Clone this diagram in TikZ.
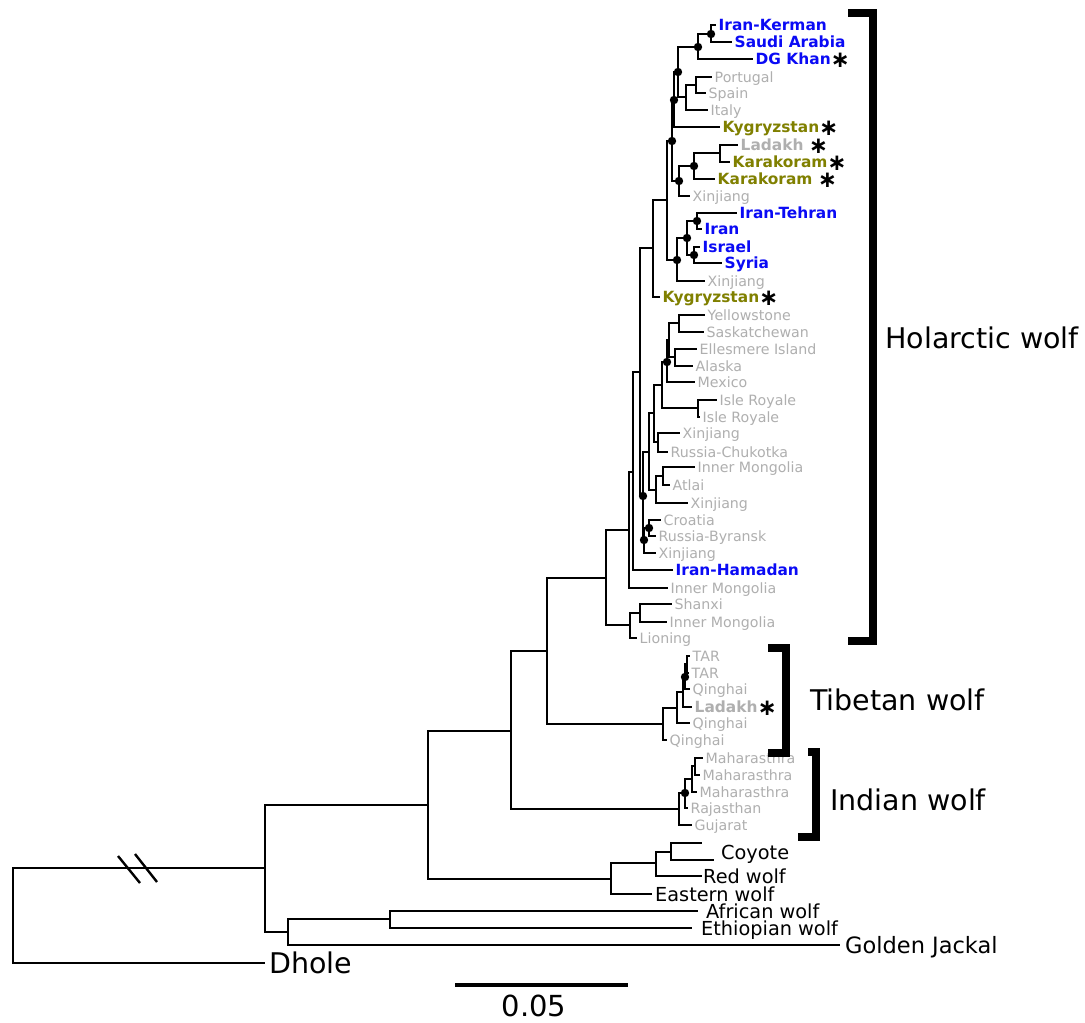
\documentclass[tikz,border=0pt]{standalone}
\usepackage{fontspec}
\setmainfont{DejaVu Sans}
\definecolor{lgray}{RGB}{175,175,175}
\definecolor{wblue}{RGB}{10,10,245}
\definecolor{olv}{RGB}{128,128,0}
\newcommand\astk{{\color{black}\fontsize{23}{23}\selectfont\bfseries\raisebox{-2.8pt}[0pt][0pt]{∗}}}
\begin{document}
\begin{tikzpicture}[x=1pt,y=-1pt,
  tree/.style={line width=1.8pt, line join=miter},
  gl/.style={font=\fontsize{14.2}{15}\selectfont, text=lgray, anchor=west, inner sep=0pt, text height=10.4pt, text depth=0pt, xshift=2.5pt},
  bgl/.style={gl, font=\fontsize{15.4}{16}\selectfont\bfseries, text height=11.2pt},
  bl/.style={bgl, text=wblue},
  ol/.style={bgl, text=olv},
  kl/.style={font=\fontsize{19.3}{20}\selectfont, text=black, anchor=west, inner sep=0pt, text height=14pt, text depth=0pt, xshift=5pt},
  big/.style={font=\fontsize{28.5}{30}\selectfont, text=black, anchor=west, inner sep=0pt, text height=20.8pt, text depth=0pt},
  brk/.style={line width=8pt, line join=miter},
  dot/.style={fill=black}
]
\useasboundingbox (0,0) rectangle (1085,1023);
\fill[white] (0,0) rectangle (1085,1023);
% tips
\coordinate (t1) at (716,25);  \coordinate (t2) at (732,42);  \coordinate (t3) at (753,59);
\coordinate (t4) at (712,77);  \coordinate (t5) at (706,93);  \coordinate (t6) at (708,110);
\coordinate (t7) at (720,127); \coordinate (t8) at (738,145); \coordinate (t9) at (730,162);
\coordinate (t10) at (715,179); \coordinate (t11) at (690,196); \coordinate (t12) at (737,213);
\coordinate (t13) at (702,229); \coordinate (t14) at (700,247); \coordinate (t15) at (722,263);
\coordinate (t16) at (705,281); \coordinate (t17) at (660,297); \coordinate (t18) at (705,315);
\coordinate (t19) at (704,332); \coordinate (t20) at (697,349); \coordinate (t21) at (693,366);
\coordinate (t22) at (695,382); \coordinate (t23) at (717,400); \coordinate (t24) at (700,417);
\coordinate (t25) at (680,433); \coordinate (t26) at (668,452); \coordinate (t27) at (695,467);
\coordinate (t28) at (670,485); \coordinate (t29) at (688,503); \coordinate (t30) at (661,520);
\coordinate (t31) at (656,536); \coordinate (t32) at (656,553); \coordinate (t33) at (673,570);
\coordinate (t34) at (668,588); \coordinate (t35) at (672,604); \coordinate (t36) at (667,622);
\coordinate (t37) at (637,638);
\coordinate (t38) at (690,656); \coordinate (t39) at (689,673); \coordinate (t40) at (690,689);
\coordinate (t41) at (692,707); \coordinate (t42) at (690,723); \coordinate (t43) at (667,740);
\coordinate (t44) at (703,758); \coordinate (t45) at (700,775); \coordinate (t46) at (697,792);
\coordinate (t47) at (688,808); \coordinate (t48) at (692,825);
\coordinate (t49) at (702,843); \coordinate (t49b) at (714,860); \coordinate (t50) at (702,876);
\coordinate (t51) at (652,894); \coordinate (t52) at (698,911); \coordinate (t53) at (692,928);
\coordinate (t54) at (840,945); \coordinate (t55) at (265,963);
% internal nodes
\coordinate (n1) at (711,34);  \coordinate (n2) at (698,47);  \coordinate (n3) at (696,85);
\coordinate (n4) at (686,97);  \coordinate (nA) at (678,72);  \coordinate (nB) at (674,100);
\coordinate (n5) at (720,153); \coordinate (n6) at (694,166); \coordinate (nD) at (679,181);
\coordinate (nC) at (672,141); \coordinate (n7) at (697,221); \coordinate (n8) at (694,255);
\coordinate (n9) at (687,238); \coordinate (nE) at (677,260); \coordinate (nG) at (667,200);
\coordinate (nH) at (653,248); \coordinate (n10) at (679,323); \coordinate (n11) at (675,357);
\coordinate (nV) at (669,340); \coordinate (nU) at (667,362); \coordinate (n12) at (698,408);
\coordinate (nT) at (662,385); \coordinate (n13) at (658,442); \coordinate (nW) at (654,413);
\coordinate (n14) at (663,476); \coordinate (nY) at (656,490); \coordinate (nX) at (649,452);
\coordinate (n15) at (649,528); \coordinate (nS) at (644,540); \coordinate (nP) at (643,496);
\coordinate (nI) at (640,372); \coordinate (nN) at (633,472); \coordinate (nK) at (629,530);
\coordinate (nM) at (640,613); \coordinate (nL) at (630,625); \coordinate (nJ) at (606,578);
\coordinate (n16) at (687,664); \coordinate (n17) at (685,677); \coordinate (n18) at (683,692);
\coordinate (n19) at (677,708); \coordinate (nTb) at (663,724);
\coordinate (n20) at (695,766); \coordinate (n21) at (692,779); \coordinate (n22) at (685,793);
\coordinate (nIn) at (679,809);
\coordinate (nZ) at (547,651); \coordinate (nAA) at (511,731);
\coordinate (n23) at (671,852); \coordinate (n24) at (656,863); \coordinate (nCy) at (611,879);
\coordinate (nBB) at (428,805); \coordinate (n25) at (390,919); \coordinate (n26) at (288,932);
\coordinate (nCC) at (265,868); \coordinate (root) at (13,915);
% branches
\foreach \p/\c in {n1/t1,n1/t2,n2/n1,n2/t3,n3/t4,n3/t5,n4/n3,n4/t6,nA/n2,nA/n4,nB/nA,nB/t7,
  n5/t8,n5/t9,n6/n5,n6/t10,nD/n6,nD/t11,nC/nB,nC/nD,n7/t12,n7/t13,n8/t14,n8/t15,n9/n7,n9/n8,
  nE/n9,nE/t16,nG/nC,nG/nE,nH/nG,nH/t17,n10/t18,n10/t19,n11/t20,n11/t21,nV/n10,nV/n11,nU/nV,
  nU/t22,n12/t23,n12/t24,nT/nU,nT/n12,n13/t25,n13/t26,nW/nT,nW/n13,n14/t27,n14/t28,nY/n14,
  nY/t29,nX/nW,nX/nY,n15/t30,n15/t31,nS/n15,nS/t32,nP/nX,nP/nS,nI/nH,nI/nP,nN/nI,nN/t33,
  nK/nN,nK/t34,nM/t35,nM/t36,nL/nM,nL/t37,nJ/nK,nJ/nL,
  n16/t38,n16/t39,n17/n16,n17/t40,n18/n17,n18/t41,n19/n18,n19/t42,nTb/n19,nTb/t43,
  n20/t44,n20/t45,n21/n20,n21/t46,n22/n21,n22/t47,nIn/n22,nIn/t48,
  nZ/nJ,nZ/nTb,nAA/nZ,nAA/nIn,n23/t49,n23/t49b,n24/n23,n24/t50,nCy/n24,nCy/t51,
  nBB/nAA,nBB/nCy,n25/t52,n25/t53,n26/n25,n26/t54,nCC/nBB,nCC/n26,root/nCC,root/t55}
  \draw[tree] (\p) |- (\c);
% support dots
\foreach \n in {n1,n2,nA,nB,nC,n6,nD,n7,n8,n9,nE,nU,nP,n15,nS,n17,n22}
  \fill[dot] (\n) circle (4.2pt);
% break marks
\coordinate (s1a) at (118,856); \coordinate (s1b) at (140,883);
\coordinate (s2a) at (135,854); \coordinate (s2b) at (157,882);
\draw[line width=2.4pt] (s1a) -- (s1b);
\draw[line width=2.4pt] (s2a) -- (s2b);
% labels
\node[bl] (L1) at (t1) {Iran-Kerman};
\node[bl] (L2) at (t2) {Saudi Arabia};
\node[bl] (L3) at (t3) {DG Khan\astk};
\node[gl] (L4) at (t4) {Portugal};
\node[gl] (L5) at (t5) {Spain};
\node[gl] (L6) at (t6) {Italy};
\node[ol] (L7) at (t7) {Kygryzstan\astk};
\node[bgl] (L8) at (t8) {Ladakh \astk};
\node[ol] (L9) at (t9) {Karakoram\astk};
\node[ol] (L10) at (t10) {Karakoram \astk};
\node[gl] (L11) at (t11) {Xinjiang};
\node[bl] (L12) at (t12) {Iran-Tehran};
\node[bl] (L13) at (t13) {Iran};
\node[bl] (L14) at (t14) {Israel};
\node[bl] (L15) at (t15) {Syria};
\node[gl] (L16) at (t16) {Xinjiang};
\node[ol] (L17) at (t17) {Kygryzstan\astk};
\node[gl] (L18) at (t18) {Yellowstone};
\node[gl] (L19) at (t19) {Saskatchewan};
\node[gl] (L20) at (t20) {Ellesmere Island};
\node[gl] (L21) at (t21) {Alaska};
\node[gl] (L22) at (t22) {Mexico};
\node[gl] (L23) at (t23) {Isle Royale};
\node[gl] (L24) at (t24) {Isle Royale};
\node[gl] (L25) at (t25) {Xinjiang};
\node[gl] (L26) at (t26) {Russia-Chukotka};
\node[gl] (L27) at (t27) {Inner Mongolia};
\node[gl] (L28) at (t28) {Atlai};
\node[gl] (L29) at (t29) {Xinjiang};
\node[gl] (L30) at (t30) {Croatia};
\node[gl] (L31) at (t31) {Russia-Byransk};
\node[gl] (L32) at (t32) {Xinjiang};
\node[bl] (L33) at (t33) {Iran-Hamadan};
\node[gl] (L34) at (t34) {Inner Mongolia};
\node[gl] (L35) at (t35) {Shanxi};
\node[gl] (L36) at (t36) {Inner Mongolia};
\node[gl] (L37) at (t37) {Lioning};
\node[gl] (L38) at (t38) {TAR};
\node[gl] (L39) at (t39) {TAR};
\node[gl] (L40) at (t40) {Qinghai};
\node[bgl] (L41) at (t41) {Ladakh\astk};
\node[gl] (L42) at (t42) {Qinghai};
\node[gl] (L43) at (t43) {Qinghai};
\node[gl] (L44) at (t44) {Maharasthra};
\node[gl] (L45) at (t45) {Maharasthra};
\node[gl] (L46) at (t46) {Maharasthra};
\node[gl] (L47) at (t47) {Rajasthan};
\node[gl] (L48) at (t48) {Gujarat};
\coordinate (cy) at (716,852);
\node[kl] (L49) at (cy) {Coyote};
\node[kl,xshift=-4pt] (L50) at (t50) {Red wolf};
\node[kl,xshift=-2pt] (L51) at (t51) {Eastern wolf};
\node[kl,xshift=3pt] (L52) at (t52) {African wolf};
\node[kl,xshift=4pt] (L53) at (t53) {Ethiopian wolf};
\node[kl,font=\fontsize{22.5}{23}\selectfont, text height=16.4pt] (L54) at (t54) {Golden Jackal};
\node[big,xshift=4pt] (L55) at (t55) {Dhole};
% clade brackets
\coordinate (h1) at (848,13); \coordinate (h2) at (873,13); \coordinate (h3) at (873,641); \coordinate (h4) at (848,641);
\draw[brk] (h1) -- (h2) -- (h3) -- (h4);
\coordinate (b1) at (768,648); \coordinate (b2) at (786,648); \coordinate (b3) at (786,753); \coordinate (b4) at (768,753);
\draw[brk] (b1) -- (b2) -- (b3) -- (b4);
\coordinate (c1) at (808,752); \coordinate (c2) at (816,752); \coordinate (c3) at (816,837); \coordinate (c4) at (798,837);
\draw[brk] (c1) -- (c2) -- (c3) -- (c4);
\node[big] (HW) at (885,338) {Holarctic wolf};
\node[big] (TW) at (810,700) {Tibetan wolf};
\node[big] (IW) at (830,800) {Indian wolf};
% scale bar
\coordinate (sb1) at (455,985); \coordinate (sb2) at (628,985);
\draw[line width=4pt] (sb1) -- (sb2);
\node[font=\fontsize{29}{30}\selectfont, inner sep=0pt, text height=21pt, text depth=0pt] (SB) at (534,1006) {0.05};
\end{tikzpicture}
\end{document}
